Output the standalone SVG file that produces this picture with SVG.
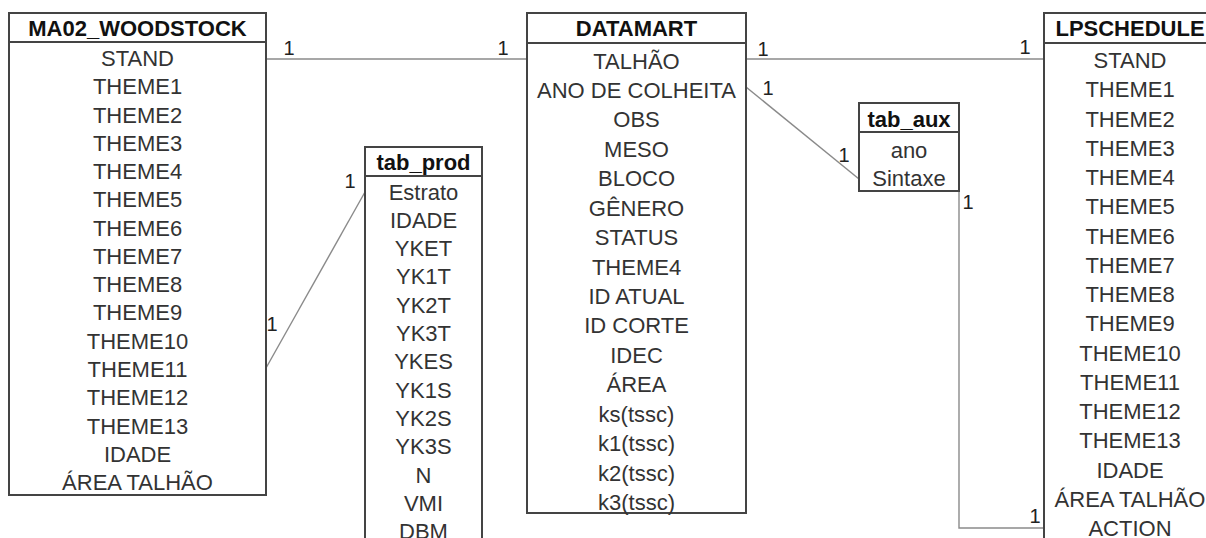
<svg xmlns="http://www.w3.org/2000/svg" width="1206" height="538" viewBox="0 0 1206 538">
<style>
.box{fill:#fff;stroke:#444;stroke-width:2}
.sep{stroke:#444;stroke-width:2}
.hd{font-family:"Liberation Sans",Arial,sans-serif;font-size:22px;font-weight:bold;fill:#111;text-anchor:middle}
.r{font-family:"Liberation Sans",Arial,sans-serif;font-size:22px;fill:#333;text-anchor:middle}
.c{fill:none;stroke:#8a8a8a;stroke-width:1.4}
.lb{font-family:"Liberation Sans",Arial,sans-serif;font-size:20px;fill:#222;text-anchor:middle}
</style>
<rect width="1206" height="538" fill="#fff"/>
<g id="connectors">
<path class="c" d="M266 59H527"/>
<path class="c" d="M746 59H1044"/>
<path class="c" d="M266 368L365 192"/>
<path class="c" d="M746 87L859 179"/>
<path class="c" d="M959 191V528H1044"/>
<text class="lb" x="289" y="55">1</text>
<text class="lb" x="503" y="55">1</text>
<text class="lb" x="763" y="56">1</text>
<text class="lb" x="1025" y="54">1</text>
<text class="lb" x="768" y="95">1</text>
<text class="lb" x="844" y="162">1</text>
<text class="lb" x="968" y="209">1</text>
<text class="lb" x="1035" y="523">1</text>
<text class="lb" x="272" y="331">1</text>
<text class="lb" x="350" y="188">1</text>
</g>
<g id="ma02_woodstock">
<rect class="box" x="9" y="13" width="257" height="482"/>
<line class="sep" x1="9" y1="42" x2="266" y2="42"/>
<text class="hd" x="137.5" y="36">MA02_WOODSTOCK</text>
<text class="r" x="137.5" y="66">STAND</text>
<text class="r" x="137.5" y="94.3">THEME1</text>
<text class="r" x="137.5" y="122.5">THEME2</text>
<text class="r" x="137.5" y="150.8">THEME3</text>
<text class="r" x="137.5" y="179.1">THEME4</text>
<text class="r" x="137.5" y="207.4">THEME5</text>
<text class="r" x="137.5" y="235.6">THEME6</text>
<text class="r" x="137.5" y="263.9">THEME7</text>
<text class="r" x="137.5" y="292.2">THEME8</text>
<text class="r" x="137.5" y="320.4">THEME9</text>
<text class="r" x="137.5" y="348.7">THEME10</text>
<text class="r" x="137.5" y="377">THEME11</text>
<text class="r" x="137.5" y="405.2">THEME12</text>
<text class="r" x="137.5" y="433.5">THEME13</text>
<text class="r" x="137.5" y="461.8">IDADE</text>
<text class="r" x="137.5" y="490.1">ÁREA TALHÃO</text>
</g>
<g id="tab_prod">
<rect class="box" x="365" y="147" width="117" height="420"/>
<line class="sep" x1="365" y1="176" x2="482" y2="176"/>
<text class="hd" x="423.5" y="169.5">tab_prod</text>
<text class="r" x="423.5" y="199.5">Estrato</text>
<text class="r" x="423.5" y="227.8">IDADE</text>
<text class="r" x="423.5" y="256.1">YKET</text>
<text class="r" x="423.5" y="284.4">YK1T</text>
<text class="r" x="423.5" y="312.7">YK2T</text>
<text class="r" x="423.5" y="341">YK3T</text>
<text class="r" x="423.5" y="369.3">YKES</text>
<text class="r" x="423.5" y="397.6">YK1S</text>
<text class="r" x="423.5" y="425.9">YK2S</text>
<text class="r" x="423.5" y="454.2">YK3S</text>
<text class="r" x="423.5" y="482.5">N</text>
<text class="r" x="423.5" y="510.8">VMI</text>
<text class="r" x="423.5" y="539">DBM</text>
</g>
<g id="datamart">
<rect class="box" x="527" y="13" width="219" height="500"/>
<line class="sep" x1="527" y1="43" x2="746" y2="43"/>
<text class="hd" x="636.5" y="36">DATAMART</text>
<text class="r" x="636.5" y="68.5">TALHÃO</text>
<text class="r" x="636.5" y="97.9">ANO DE COLHEITA</text>
<text class="r" x="636.5" y="127.4">OBS</text>
<text class="r" x="636.5" y="156.8">MESO</text>
<text class="r" x="636.5" y="186.2">BLOCO</text>
<text class="r" x="636.5" y="215.7">GÊNERO</text>
<text class="r" x="636.5" y="245.1">STATUS</text>
<text class="r" x="636.5" y="274.5">THEME4</text>
<text class="r" x="636.5" y="303.9">ID ATUAL</text>
<text class="r" x="636.5" y="333.4">ID CORTE</text>
<text class="r" x="636.5" y="362.8">IDEC</text>
<text class="r" x="636.5" y="392.2">ÁREA</text>
<text class="r" x="636.5" y="421.7">ks(tssc)</text>
<text class="r" x="636.5" y="451.1">k1(tssc)</text>
<text class="r" x="636.5" y="480.5">k2(tssc)</text>
<text class="r" x="636.5" y="509.9">k3(tssc)</text>
</g>
<g id="tab_aux">
<rect class="box" x="859" y="103" width="100" height="88"/>
<line class="sep" x1="859" y1="132" x2="959" y2="132"/>
<text class="hd" x="909" y="126.5">tab_aux</text>
<text class="r" x="909" y="157.5">ano</text>
<text class="r" x="909" y="186">Sintaxe</text>
</g>
<g id="lpschedule">
<rect class="box" x="1044" y="13" width="172" height="560"/>
<line class="sep" x1="1044" y1="43" x2="1216" y2="43"/>
<text class="hd" x="1130" y="36">LPSCHEDULE</text>
<text class="r" x="1130" y="68">STAND</text>
<text class="r" x="1130" y="97.3">THEME1</text>
<text class="r" x="1130" y="126.5">THEME2</text>
<text class="r" x="1130" y="155.8">THEME3</text>
<text class="r" x="1130" y="185">THEME4</text>
<text class="r" x="1130" y="214.3">THEME5</text>
<text class="r" x="1130" y="243.5">THEME6</text>
<text class="r" x="1130" y="272.8">THEME7</text>
<text class="r" x="1130" y="302">THEME8</text>
<text class="r" x="1130" y="331.3">THEME9</text>
<text class="r" x="1130" y="360.5">THEME10</text>
<text class="r" x="1130" y="389.8">THEME11</text>
<text class="r" x="1130" y="419">THEME12</text>
<text class="r" x="1130" y="448.3">THEME13</text>
<text class="r" x="1130" y="477.5">IDADE</text>
<text class="r" x="1130" y="506.8">ÁREA TALHÃO</text>
<text class="r" x="1130" y="536">ACTION</text>
</g>
</svg>
